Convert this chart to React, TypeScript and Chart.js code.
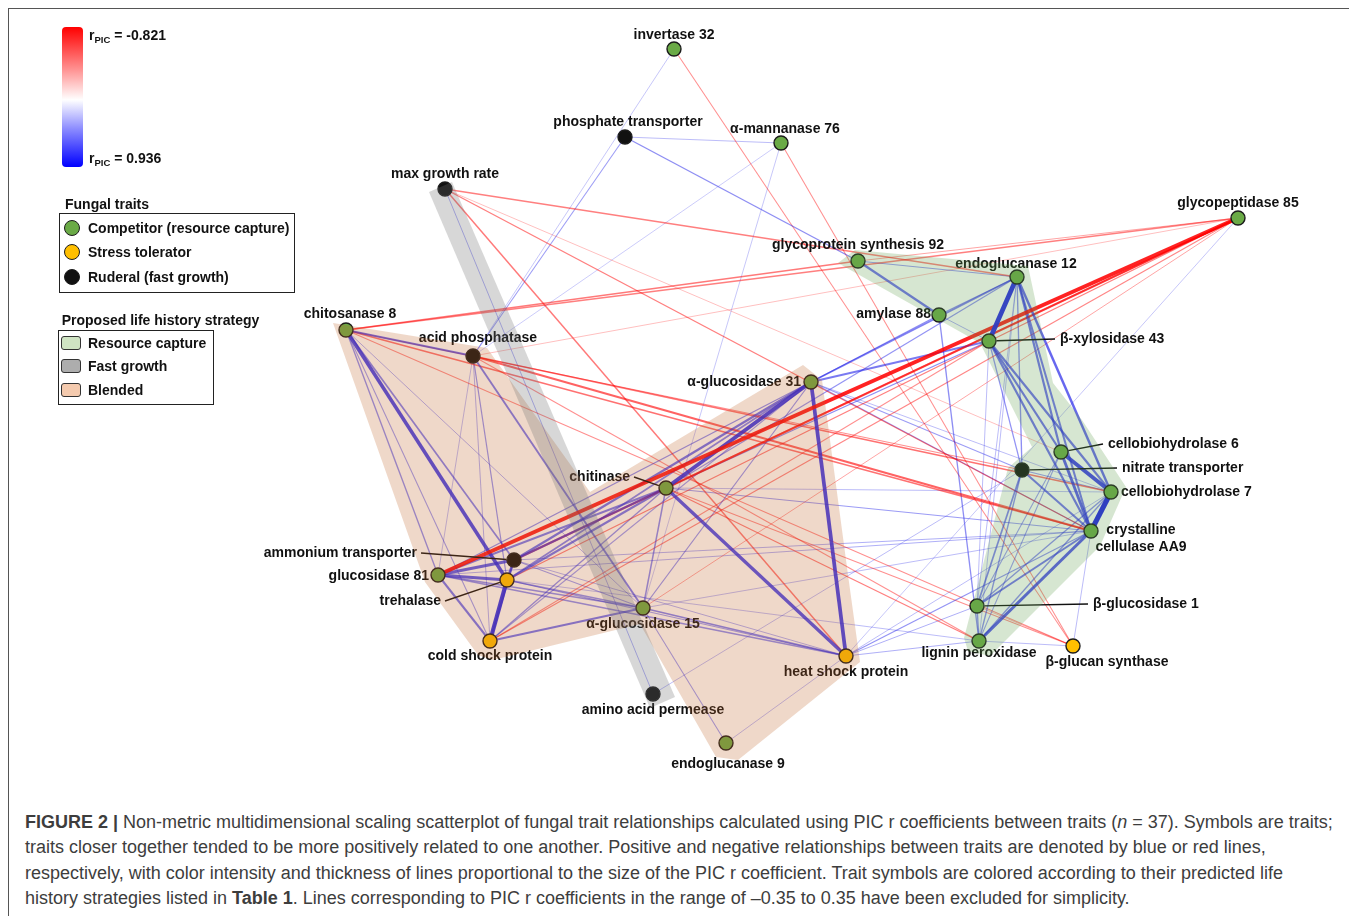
import React, { useEffect, useRef } from 'react';
import { Chart, registerables } from 'chart.js';
Chart.register(...registerables);

// ---------- DATA ----------
// NMDS ordination axes (figure units)
const axis1Range = [9, 1350];
const axis2Range = [9, 789];

const nodeIds = ['INV','PT','AM76','MGR','GP85','GS92','EG12','AMY','BX43','CH8','AP','AG31','CBH6','NT','CBH7','AA9','CHI','AMT','G81','TRE','AG15','CSP','HSP','BG1','LP','BGS','AAP','EG9'];
const nodeNames = ['invertase 32','phosphate transporter','α-mannanase 76','max growth rate','glycopeptidase 85','glycoprotein synthesis 92','endoglucanase 12','amylase 88','β-xylosidase 43','chitosanase 8','acid phosphatase','α-glucosidase 31','cellobiohydrolase 6','nitrate transporter','cellobiohydrolase 7','crystalline\ncellulase AA9','chitinase','ammonium transporter','glucosidase 81','trehalase','α-glucosidase 15','cold shock protein','heat shock protein','β-glucosidase 1','lignin peroxidase','β-glucan synthase','amino acid permease','endoglucanase 9'];
const nodeAxis1 = [674,625,781,445,1238,858,1017,939,989,346,473,811,1061,1022,1111,1091,666,514,438,507,643,490,846,977,979,1073,653,726];
const nodeAxis2 = [49,137,143,189,218,261,277,315,341,330,356,382,452,470,492,531,488,560,575,580,608,641,656,606,641,646,694,743];
// C = competitor, S = stress tolerator, R = ruderal
const nodeTrait = ['C','R','C','R','C','C','C','C','C','C','R','C','C','R','C','C','C','R','C','S','C','S','S','C','C','S','R','C'];

// PIC r coefficients between traits (|r| >= 0.35)
const edgeList: [string, string, number][] = [
  ['INV','AP',0.38],['INV','BGS',-0.45],
  ['PT','AM76',0.4],['PT','GS92',0.5],['PT','AP',0.45],
  ['AM76','AP',0.37],['AM76','AG15',0.38],['AM76','BGS',-0.45],
  ['MGR','EG12',-0.5],['MGR','HSP',-0.52],['MGR','AA9',-0.5],['MGR','CBH6',-0.38],['MGR','AAP',0.42],
  ['GP85','G81',-0.821],['GP85','AMT',-0.6],['GP85','CHI',-0.55],['GP85','TRE',-0.5],['GP85','CSP',-0.48],['GP85','AG15',-0.42],['GP85','CH8',-0.5],['GP85','AP',-0.38],['GP85','GS92',-0.42],['GP85','HSP',0.38],
  ['GS92','AMY',0.62],['GS92','EG12',0.45],['GS92','CH8',-0.52],
  ['EG12','BX43',0.9],['EG12','AMY',0.5],['EG12','AG31',0.55],['EG12','CHI',0.48],['EG12','CBH6',0.62],['EG12','CBH7',0.65],['EG12','AA9',0.6],['EG12','NT',0.5],['EG12','BG1',0.4],['EG12','LP',0.4],
  ['AMY','BX43',0.42],['AMY','AG31',0.5],['AMY','LP',0.5],
  ['BX43','AG31',0.58],['BX43','CHI',0.5],['BX43','CBH6',0.62],['BX43','CBH7',0.62],['BX43','AA9',0.62],['BX43','NT',0.48],['BX43','BG1',0.4],['BX43','CSP',-0.45],
  ['CH8','AP',0.62],['CH8','G81',0.5],['CH8','TRE',0.78],['CH8','AMT',0.55],['CH8','CSP',0.45],['CH8','AG15',0.42],['CH8','AA9',-0.55],['CH8','NT',-0.45],['CH8','BGS',-0.45],
  ['AP','G81',0.4],['AP','TRE',0.48],['AP','CSP',0.42],['AP','AG15',0.58],['AP','AA9',-0.6],['AP','CBH7',-0.55],['AP','LP',-0.45],
  ['AG31','CHI',0.82],['AG31','HSP',0.8],['AG31','AMT',0.62],['AG31','TRE',0.55],['AG31','G81',0.5],['AG31','CSP',0.45],['AG31','AG15',0.48],['AG31','NT',0.45],['AG31','AA9',0.45],['AG31','CBH7',0.4],
  ['CHI','HSP',0.75],['CHI','AMT',0.62],['CHI','G81',0.58],['CHI','TRE',0.6],['CHI','CSP',0.5],['CHI','AG15',0.52],['CHI','CBH7',0.4],['CHI','AA9',0.45],['CHI','LP',-0.5],['CHI','BGS',-0.45],
  ['G81','AMT',0.7],['G81','TRE',0.72],['G81','CSP',0.6],['G81','AG15',0.5],['G81','HSP',0.5],['G81','AA9',0.42],
  ['AMT','TRE',0.65],['AMT','CSP',0.6],['AMT','AG15',0.45],['AMT','HSP',0.42],['AMT','AA9',0.42],
  ['TRE','CSP',0.85],['TRE','AG15',0.5],['TRE','HSP',0.45],['TRE','LP',0.4],
  ['CSP','AG15',0.6],
  ['AG15','EG9',0.45],['AG15','HSP',0.55],['AG15','AA9',0.4],
  ['AAP','NT',0.4],['EG9','HSP',0.4],
  ['HSP','AA9',0.48],['HSP','LP',0.42],['HSP','BG1',0.42],['HSP','CBH7',0.4],
  ['CBH6','CBH7',0.8],['CBH7','AA9',0.936],['CBH6','AA9',0.7],['CBH6','BG1',0.45],['CBH6','LP',0.45],
  ['NT','AA9',0.6],['NT','BG1',0.55],['NT','LP',0.5],['NT','CBH7',0.45],
  ['BG1','AA9',0.6],['LP','AA9',0.72],['BG1','CBH7',0.5],['LP','CBH7',0.5],['BG1','LP',0.5],
  ['LP','BGS',0.4],['AA9','BGS',0.4],['BG1','BGS',-0.4],
];

// Life-history strategy hulls (ordination units)
const resourceHull = [[855,250],[1028,266],[1053,383],[1082,420],[1126,487],[1100,546],[990,656],[968,651],[964,638],[1008,468],[1032,447],[980,343],[838,263]];
const blendedHull = [[333,323],[487,348],[590,492],[803,365],[822,380],[848,575],[860,662],[738,760],[716,757],[640,624],[493,660],[478,655],[425,582]];
const fastHull = [[429,192],[452,182],[675,697],[650,708]];

const rMin = -0.821;
const rMax = 0.936;

// ---------- STYLE ----------
const traitColor: Record<string, string> = { C: '#6aaa46', S: '#ffbf00', R: '#111111' };
// label placement: [align, dx, dy, leader]
const labelPlace: Record<string, [string, number, number, boolean]> = {
  INV: ['c', 0, -14, false], PT: ['c', 3, -15, false], AM76: ['c', 4, -14, false], MGR: ['c', 0, -15, false],
  GP85: ['c', 0, -15, false], GS92: ['c', 0, -16, false], EG12: ['c', -1, -13, false], AMY: ['r', -8, -1, false],
  BX43: ['l', 71, -2, true], CH8: ['c', 4, -16, false], AP: ['c', 5, -18, false], AG31: ['r', -10, 0, false],
  CBH6: ['l', 47, -8, true], NT: ['l', 100, -2, true], CBH7: ['l', 10, 0, false], AA9: ['c', 50, -1, false],
  CHI: ['r', -36, -11, true], AMT: ['r', -97, -7, true], G81: ['r', -9, 1, false], TRE: ['r', -66, 21, true],
  AG15: ['c', 0, 16, false], CSP: ['c', 0, 15, false], HSP: ['c', 0, 16, false], BG1: ['l', 116, -2, true],
  LP: ['c', 0, 12, false], BGS: ['c', 34, 16, false], AAP: ['c', 0, 16, false], EG9: ['c', 2, 21, false],
};

function edgeStyle(r: number) {
  const t = Math.min(1, Math.max(0, (Math.abs(r) - 0.35) / (0.936 - 0.35)));
  const alpha = 0.33 + 0.67 * t;
  const color = r > 0 ? `rgba(30,30,232,${alpha})` : `rgba(255,0,0,${alpha})`;
  return { color, width: 0.6 + 4.4 * Math.pow(t, 1.3), t };
}

const FONT = '"Liberation Sans", Arial, Helvetica, sans-serif';

export default function App() {
  const ref = useRef<HTMLCanvasElement>(null);
  useEffect(() => {
    if (!ref.current) return;
    const idx: Record<string, number> = {};
    nodeIds.forEach((id, i) => (idx[id] = i));
    const edgeSets = edgeList.map(([a, b, r]) => {
      const s = edgeStyle(r);
      return {
        data: [
          { x: nodeAxis1[idx[a]], y: nodeAxis2[idx[a]] },
          { x: nodeAxis1[idx[b]], y: nodeAxis2[idx[b]] },
        ],
        showLine: true,
        borderColor: s.color,
        borderWidth: s.width,
        pointRadius: 0,
        pointHoverRadius: 0,
        order: 2 - s.t,
      };
    });
    const nodeSet = {
      data: nodeAxis1.map((x, i) => ({ x, y: nodeAxis2[i] })),
      showLine: false,
      pointRadius: 7,
      pointHoverRadius: 7,
      pointBorderWidth: 1.4,
      pointBorderColor: '#1b1b1b',
      pointBackgroundColor: nodeTrait.map((t) => traitColor[t]),
      order: 0,
    };

    const labelPlugin = {
      id: 'nodeLabels',
      afterDatasetsDraw(chart: any) {
        const { ctx } = chart;
        const xs = chart.scales.x, ys = chart.scales.y;
        ctx.save();
        ctx.font = `bold 14px ${FONT}`;
        ctx.fillStyle = '#111';
        ctx.strokeStyle = '#111';
        ctx.lineWidth = 1.4;
        ctx.textBaseline = 'middle';
        nodeIds.forEach((id, i) => {
          const px = xs.getPixelForValue(nodeAxis1[i]);
          const py = ys.getPixelForValue(nodeAxis2[i]);
          const [al, dx, dy, leader] = labelPlace[id];
          const tx = px + dx, ty = py + dy;
          if (leader) {
            const ex = al === 'l' ? tx - 5 : tx + 4;
            const vx = ex - px, vy = ty - py;
            const len = Math.hypot(vx, vy);
            ctx.beginPath();
            ctx.moveTo(px + (vx / len) * 7.5, py + (vy / len) * 7.5);
            ctx.lineTo(ex, ty);
            ctx.stroke();
          }
          ctx.textAlign = al === 'l' ? 'left' : al === 'r' ? 'right' : 'center';
          const lines = nodeNames[i].split('\n');
          lines.forEach((ln, k) => ctx.fillText(ln, tx, ty + k * 17));
        });
        ctx.restore();
      },
    };

    const hullPlugin = {
      id: 'hulls',
      afterDraw(chart: any) {
        const { ctx } = chart;
        const xs = chart.scales.x, ys = chart.scales.y;
        const fillPoly = (pts: number[][], color: string) => {
          ctx.beginPath();
          pts.forEach(([x, y], k) => {
            const X = xs.getPixelForValue(x), Y = ys.getPixelForValue(y);
            if (k === 0) ctx.moveTo(X, Y); else ctx.lineTo(X, Y);
          });
          ctx.closePath();
          ctx.fillStyle = color;
          ctx.fill();
        };
        ctx.save();
        fillPoly(blendedHull, 'rgba(190,100,40,0.25)');
        fillPoly(resourceHull, 'rgba(98,157,78,0.26)');
        fillPoly(fastHull, 'rgba(110,110,110,0.28)');
        ctx.restore();
      },
    };

    const chart = new Chart(ref.current, {
      type: 'scatter',
      data: { datasets: [nodeSet as any, ...(edgeSets as any)] },
      options: {
        responsive: false,
        animation: false,
        events: [],
        layout: { padding: 0, autoPadding: false },
        plugins: { legend: { display: false }, tooltip: { enabled: false } },
        scales: {
          x: { type: 'linear', min: axis1Range[0], max: axis1Range[1], display: false },
          y: { type: 'linear', min: axis2Range[0], max: axis2Range[1], reverse: true, display: false },
        },
      },
      plugins: [labelPlugin, hullPlugin],
    });
    return () => chart.destroy();
  }, []);

  const abs = (left: number, top: number, extra: any = {}) => ({ position: 'absolute' as const, left, top, ...extra });
  const txt: any = { fontFamily: FONT, fontWeight: 'bold', fontSize: 14, color: '#111', whiteSpace: 'nowrap', lineHeight: '17px', transform: 'translateY(-50%)' };
  const sub: any = { fontSize: 9.5, verticalAlign: '-3px' };

  return (
    <div style={{ position: 'relative', width: 1341, height: 930, border: '1px solid #555', background: '#fff' }}>
      <canvas ref={ref} width={1341} height={780} style={{ position: 'absolute', left: 0, top: 0, width: 1341, height: 780 }} />
      {/* colour scale */}
      <div style={abs(53, 18, { width: 21, height: 140, borderRadius: 4, background: 'linear-gradient(to bottom, #ff0000 0%, #ff9090 30%, #ffffff 52%, #9090ff 72%, #0000ff 100%)' })} />
      <div style={abs(80, 28, txt)}>r<span style={sub}>PIC</span> = {rMin.toFixed(3)}</div>
      <div style={abs(80, 151, txt)}>r<span style={sub}>PIC</span> = {rMax.toFixed(3)}</div>
      {/* Fungal traits */}
      <div style={abs(56, 195, txt)}>Fungal traits</div>
      <div style={abs(50, 204, { width: 234, height: 78, border: '1.5px solid #222' })} />
      {[['C', 'Competitor (resource capture)', 218.7], ['S', 'Stress tolerator', 243.3], ['R', 'Ruderal (fast growth)', 267.7]].map(([t, l, y]: any) => (
        <React.Fragment key={l}>
          <div style={abs(55, y - 8, { width: 14, height: 14, borderRadius: '50%', background: traitColor[t], border: '1.3px solid #1b1b1b' })} />
          <div style={abs(79, y, txt)}>{l}</div>
        </React.Fragment>
      ))}
      {/* strategies */}
      <div style={abs(52.7, 311, txt)}>Proposed life history strategy</div>
      <div style={abs(49, 321, { width: 154, height: 73, border: '1.5px solid #222' })} />
      {[['#cfe4c3', 'Resource capture', 333.7], ['#adadad', 'Fast growth', 357], ['#f4caae', 'Blended', 381]].map(([c, l, y]: any) => (
        <React.Fragment key={l}>
          <div style={abs(52, y - 7, { width: 18, height: 12, borderRadius: 3, background: c, border: '1.2px solid #333' })} />
          <div style={abs(79, y, txt)}>{l}</div>
        </React.Fragment>
      ))}
      {/* caption */}
      <div style={abs(16, 801, { fontFamily: FONT, fontSize: 18, lineHeight: '25.3px', color: '#3d3d3d', whiteSpace: 'nowrap' })}>
        <b>FIGURE 2 |</b> Non-metric multidimensional scaling scatterplot of fungal trait relationships calculated using PIC r coefficients between traits (<i>n</i> = 37). Symbols are traits;<br />
        traits closer together tended to be more positively related to one another. Positive and negative relationships between traits are denoted by blue or red lines,<br />
        respectively, with color intensity and thickness of lines proportional to the size of the PIC r coefficient. Trait symbols are colored according to their predicted life<br />
        history strategies listed in <b>Table 1</b>. Lines corresponding to PIC r coefficients in the range of –0.35 to 0.35 have been excluded for simplicity.
      </div>
    </div>
  );
}
